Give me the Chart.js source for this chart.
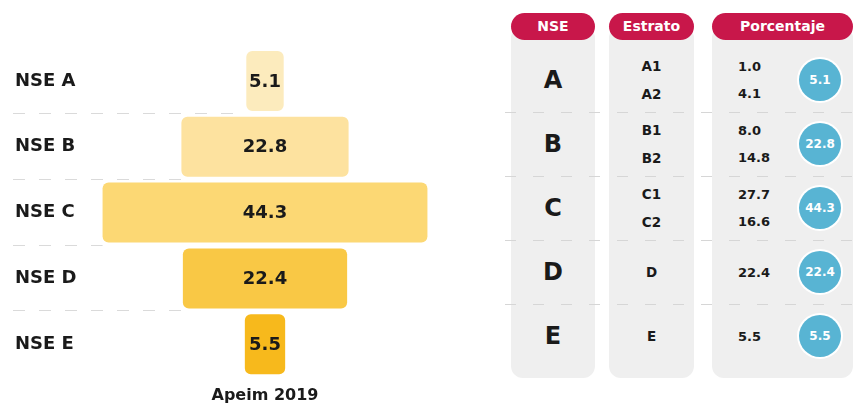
<!DOCTYPE html>
<html>
<head>
<meta charset="utf-8">
<script src="https://cdn.jsdelivr.net/npm/chart.js@4/dist/chart.umd.min.js"></script>
<style>
  html, body { margin: 0; padding: 0; background: #fff; }
  body { width: 857px; height: 407px; position: relative; overflow: hidden; font-family: "DejaVu Sans", sans-serif; }
  #funnel { position: absolute; left: 0; top: 0; }
  .panel { position: absolute; top: 26px; height: 352px; background: #efefef; border-radius: 12px; }
  .pill { position: absolute; top: 13px; height: 27px; line-height: 27px; background: #c8174a; color: #fff;
          border-radius: 14px; text-align: center; font-weight: bold; font-size: 14px; }
  .sep { position: absolute; left: 505px; width: 352px; height: 1px;
         background: repeating-linear-gradient(90deg, #d6d6d6 0 11px, transparent 11px 28px); }
  .cell { position: absolute; display: flex; flex-direction: column; justify-content: center; color: #1a1a1a; font-weight: bold; }
  .letter { font-size: 24px; align-items: center; }
  .strata { font-size: 13.5px; align-items: center; gap: 12px; }
  .pct { font-size: 13px; align-items: flex-start; gap: 12px; }
  .bubble { position: absolute; width: 42px; height: 42px; border-radius: 50%; background: #58b4d3;
            box-shadow: 0 0 0 2px #fff; color: #fff; font-weight: bold; font-size: 12px;
            display: flex; align-items: center; justify-content: center; }
</style>
</head>
<body>
<canvas id="funnel" width="500" height="407"></canvas>
<div id="table"></div>
<script>
// ─── Data ────────────────────────────────────────────────────────────────────
const categories = ["NSE A", "NSE B", "NSE C", "NSE D", "NSE E"];
const nseValues  = [5.1, 22.8, 44.3, 22.4, 5.5];
const barColors  = ["#fcebbd", "#fde29f", "#fcd874", "#f9c845", "#f7b91c"];

const nseLetters   = ["A", "B", "C", "D", "E"];
const strata       = [["A1", "A2"], ["B1", "B2"], ["C1", "C2"], ["D"], ["E"]];
const strataValues = [[1.0, 4.1], [8.0, 14.8], [27.7, 16.6], [22.4], [5.5]];
const headers      = ["NSE", "Estrato", "Porcentaje"];

const FONT = "'DejaVu Sans', sans-serif";
const INK  = "#1a1a1a";

// ─── Funnel plugins ──────────────────────────────────────────────────────────

// dashed separators, from the left edge up to the upper bar
const separators = {
  id: "separators",
  beforeDatasetsDraw(chart) {
    const { ctx, scales: { x, y } } = chart;
    ctx.save();
    ctx.strokeStyle = "#dadada";
    ctx.lineWidth = 1;
    ctx.setLineDash([12, 14]);
    for (let i = 0; i < nseValues.length - 1; i++) {
      const py = Math.round((y.getPixelForValue(i) + y.getPixelForValue(i + 1)) / 2) - 0.5;
      ctx.beginPath();
      ctx.moveTo(13, py);
      ctx.lineTo(x.getPixelForValue(-nseValues[i] / 2), py);
      ctx.stroke();
    }
    ctx.restore();
  }
};

// value inside each bar
const barValues = {
  id: "barValues",
  afterDatasetsDraw(chart) {
    const { ctx } = chart;
    ctx.save();
    ctx.fillStyle = INK;
    ctx.font = `bold 18px ${FONT}`;
    ctx.textAlign = "center";
    ctx.textBaseline = "middle";
    chart.getDatasetMeta(0).data.forEach((bar, i) => {
      const c = bar.getCenterPoint();
      ctx.fillText(nseValues[i].toFixed(1), c.x, c.y + 1);
    });
    ctx.restore();
  }
};

// ─── Funnel chart ────────────────────────────────────────────────────────────

new Chart(document.getElementById("funnel"), {
  type: "bar",
  data: {
    labels: categories,
    datasets: [{
      data: nseValues.map(v => [-v / 2, v / 2]),
      backgroundColor: barColors,
      borderRadius: 6,
      borderSkipped: false,
      categoryPercentage: 1,
      barPercentage: 0.912,
    }]
  },
  options: {
    indexAxis: "y",
    responsive: false,
    animation: false,
    layout: { padding: { left: 15, right: 70, top: 48, bottom: 1.6 } },
    plugins: { legend: { display: false }, tooltip: { enabled: false } },
    scales: {
      y: {
        grid: { display: false, drawTicks: false },
        border: { display: false },
        ticks: { color: INK, crossAlign: "far", padding: 0, font: { family: FONT, size: 18, weight: "bold" } },
        afterFit: s => { s.width = 85; }
      },
      x: {
        min: -22.5, max: 22.5,
        grid: { display: false, drawTicks: false },
        border: { display: false },
        ticks: { display: false },
        title: {
          display: true, text: "Apeim 2019", color: INK,
          font: { family: FONT, size: 16, weight: "bold", lineHeight: 1.2 },
          padding: { top: 9, bottom: 0 }
        }
      }
    }
  },
  plugins: [separators, barValues]
});

// ─── Table ───────────────────────────────────────────────────────────────────

const table = document.getElementById("table");
const cols = [
  { left: 511, width: 84 },
  { left: 609, width: 85 },
  { left: 712, width: 141 },
];
const ROW_TOP = 48, ROW_H = 64;

function add(cls, css, html) {
  const d = document.createElement("div");
  d.className = cls;
  Object.assign(d.style, css);
  if (html !== undefined) d.innerHTML = html;
  table.appendChild(d);
  return d;
}

cols.forEach((c, i) => {
  add("panel", { left: c.left + "px", width: c.width + "px" });
  add("pill", { left: c.left + "px", width: c.width + "px" }, headers[i]);
});

for (let r = 1; r < nseLetters.length; r++) {
  add("sep", { top: (ROW_TOP + r * ROW_H) + "px" });
}

nseLetters.forEach((letter, r) => {
  const top = ROW_TOP + r * ROW_H;
  add("cell letter", { left: cols[0].left + "px", width: cols[0].width + "px", top: top + "px", height: ROW_H + "px" }, letter);
  add("cell strata", { left: cols[1].left + "px", width: cols[1].width + "px", top: top + "px", height: ROW_H + "px" },
      strata[r].map(s => `<span>${s}</span>`).join(""));
  add("cell pct", { left: "738px", width: "50px", top: top + "px", height: ROW_H + "px" },
      strataValues[r].map(v => `<span>${v.toFixed(1)}</span>`).join(""));
  add("bubble", { left: "799px", top: (top + ROW_H / 2 - 21) + "px" }, nseValues[r].toFixed(1));
});
</script>
</body>
</html>
